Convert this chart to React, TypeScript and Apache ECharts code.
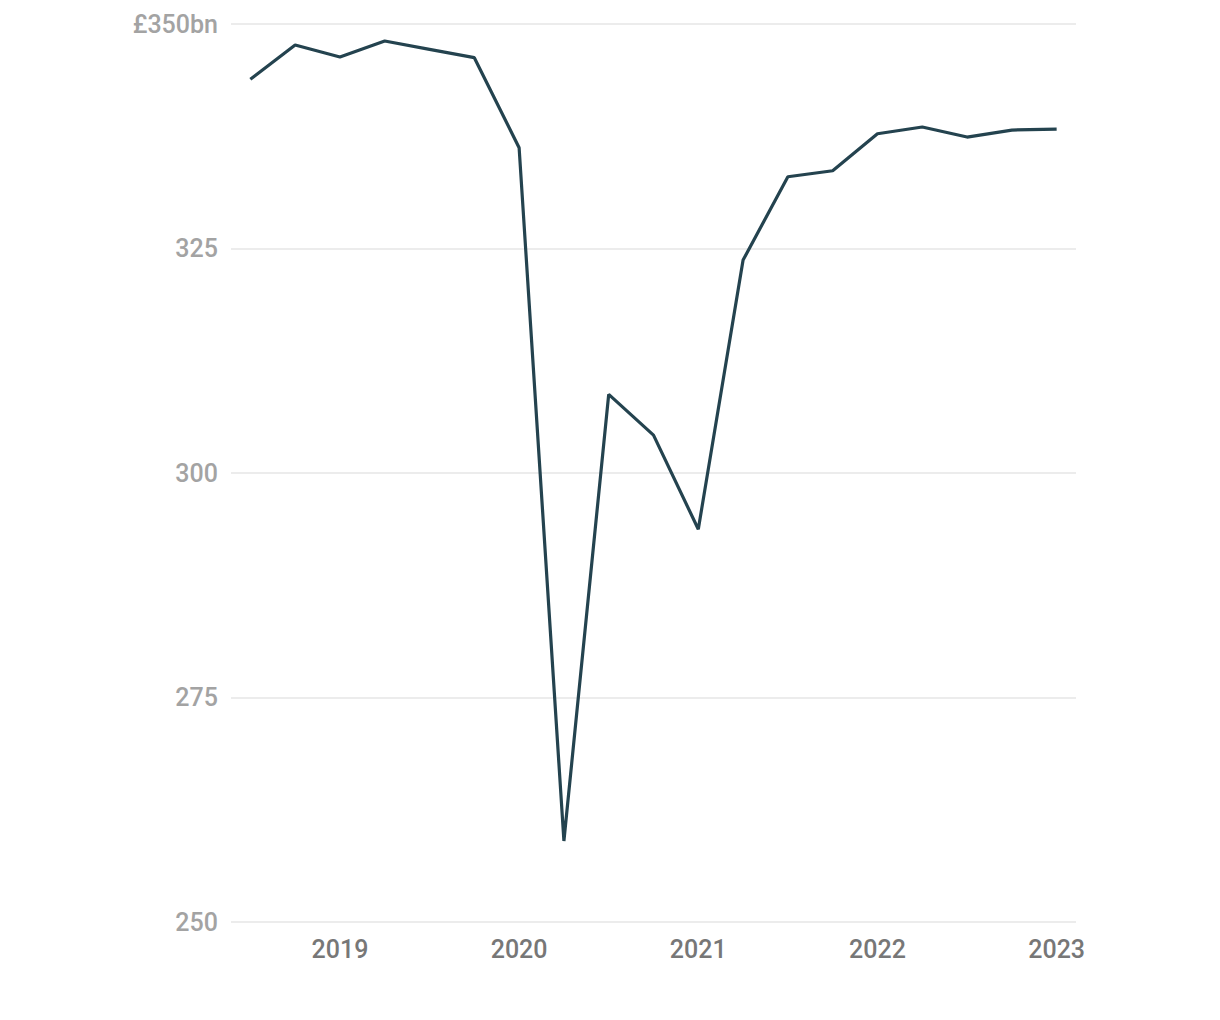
import React, { useEffect, useRef } from "react";
import * as echarts from "echarts";

const quarters = [
  "2018 Q3", "2018 Q4", "2019 Q1", "2019 Q2", "2019 Q3", "2019 Q4",
  "2020 Q1", "2020 Q2", "2020 Q3", "2020 Q4", "2021 Q1", "2021 Q2",
  "2021 Q3", "2021 Q4", "2022 Q1", "2022 Q2", "2022 Q3", "2022 Q4", "2023 Q1",
];
const values = [
  343.84, 347.66, 346.32, 348.11, 347.18, 346.25,
  336.22, 259.02, 308.75, 304.22, 293.74, 323.71,
  332.99, 333.66, 337.78, 338.53, 337.41, 338.19, 338.3,
];
const yearTicks = [2019, 2020, 2021, 2022, 2023];
const yTicks = [250, 275, 300, 325, 350];

function quarterToX(q: string): number {
  const [y, qq] = q.split(" Q");
  return Number(y) + (Number(qq) - 1) * 0.25;
}

export default function App() {
  const ref = useRef<HTMLDivElement>(null);
  useEffect(() => {
    if (!ref.current) return;
    const chart = echarts.init(ref.current, undefined, { renderer: "svg" });
    const data = quarters.map((q, i) => [quarterToX(q), values[i]]);
    chart.setOption({
      animation: false,
      backgroundColor: "#ffffff",
      grid: { left: 231, right: 144, top: 24, bottom: 98 },
      xAxis: {
        type: "value",
        min: 2018.392,
        max: 2023.108,
        axisLine: { show: false },
        axisTick: { show: false },
        splitLine: { show: false },
        axisLabel: {
          customValues: yearTicks,
          formatter: (v: number) => String(Math.round(v)),
          color: "#777777",
          fontSize: 25,
          fontWeight: 500,
          fontFamily: "Roboto",
          margin: 15,
        },
      },
      yAxis: {
        type: "value",
        min: 250,
        max: 350,
        interval: 25,
        axisLine: { show: false },
        axisTick: { show: false },
        splitLine: { lineStyle: { color: "#e6e6e6", width: 1.5 } },
        axisLabel: {
          customValues: yTicks,
          formatter: (v: number) => (v === 350 ? "£" + v + "bn" : String(v)),
          color: "#a3a3a3",
          fontSize: 25,
          fontWeight: 500,
          fontFamily: "Roboto",
          margin: 13,
        },
      },
      series: [
        {
          type: "line",
          data,
          showSymbol: false,
          symbol: "none",
          lineStyle: { color: "#24434f", width: 3.2 },
        },
      ],
    });
    return () => chart.dispose();
  }, []);
  return (
    <div
      ref={ref}
      style={{ position: "fixed", left: 0, top: 0, width: 1220, height: 1020 }}
    />
  );
}
